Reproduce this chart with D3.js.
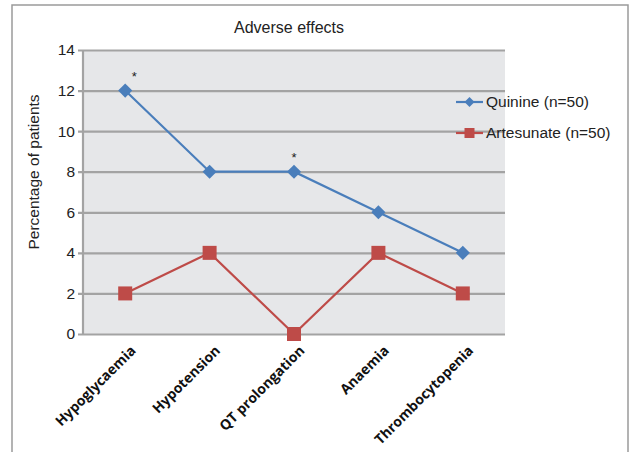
<!DOCTYPE html>
<html><head><meta charset="utf-8">
<script src="https://cdn.jsdelivr.net/npm/d3@7"></script>
<style>body{margin:0;background:#fff}svg{display:block}</style>
</head><body><div id="c"></div>
<script>
const categories = ["Hypoglycaemia","Hypotension","QT prolongation","Anaemia","Thrombocytopenia"];
const quinine = [12, 8, 8, 6, 4];
const artesunate = [2, 4, 0, 4, 2];
const yTicks = [0, 2, 4, 6, 8, 10, 12, 14];
const significant = ["Hypoglycaemia", "QT prolongation"];
const seriesNames = ["Quinine (n=50)", "Artesunate (n=50)"];

const W = 634, H = 452;
const svg = d3.select("#c").append("svg").attr("width", W).attr("height", H);
const font = "'Liberation Sans', Arial, sans-serif";

// outer frame
svg.append("rect").attr("x", 12).attr("y", 5).attr("width", 616).attr("height", 460)
  .attr("fill", "none").attr("stroke", "#9a9a9a").attr("stroke-width", 1.5);

const m = {left: 83, right: 505, top: 50, bottom: 334};
const x = d3.scaleBand().domain(categories).range([m.left, m.right]);
const y = d3.scaleLinear().domain([0, 14]).range([m.bottom, m.top]);
const cx = d => x(d) + x.bandwidth() / 2;

svg.append("rect").attr("x", m.left).attr("y", m.top).attr("width", m.right - m.left)
  .attr("height", m.bottom - m.top).attr("fill", "#e6e7e9");

// gridlines
const yAxis = d3.axisLeft(y).tickValues(yTicks).tickSize(-(m.right - m.left)).tickPadding(8);
const gy = svg.append("g").attr("transform", `translate(${m.left},0)`).call(yAxis);
gy.select(".domain").remove();
gy.selectAll(".tick line").attr("stroke", "#a3a3a3").attr("stroke-width", 2.2).attr("x1", -5);
gy.selectAll(".tick text").attr("font-family", font).attr("font-size", 15.5).attr("fill", "#222");

// y axis line
svg.append("line").attr("x1", m.left).attr("x2", m.left).attr("y1", m.top).attr("y2", m.bottom + 1)
  .attr("stroke", "#a3a3a3").attr("stroke-width", 2.2);

// x axis labels
const xAxis = d3.axisBottom(x).tickSize(0).tickPadding(0);
const gx = svg.append("g").attr("transform", `translate(0,${m.bottom})`).call(xAxis);
gx.select(".domain").remove();
gx.selectAll(".tick text").attr("font-family", "'Open Sans', sans-serif").attr("font-weight", "bold")
  .attr("font-size", 14).attr("fill", "#111").attr("text-anchor", "end")
  .attr("transform", "translate(8,14) rotate(-45)").attr("dy", "0.35em");

// lines
const line = d3.line().x((d, i) => cx(categories[i])).y(d => y(d));
const blue = "#4a7ebb", red = "#be4b48";
svg.append("path").datum(quinine).attr("d", line).attr("fill", "none").attr("stroke", blue).attr("stroke-width", 2.2);
svg.append("path").datum(artesunate).attr("d", line).attr("fill", "none").attr("stroke", red).attr("stroke-width", 2.2);

const diamond = d3.symbol().type(d3.symbolSquare).size(100);
svg.selectAll(".qm").data(quinine).join("path")
  .attr("d", diamond())
  .attr("transform", (d, i) => `translate(${cx(categories[i])},${y(d)}) rotate(45)`)
  .attr("fill", blue);
svg.selectAll(".am").data(artesunate).join("rect")
  .attr("x", (d, i) => cx(categories[i]) - 7).attr("y", d => y(d) - 7)
  .attr("width", 14).attr("height", 14).attr("fill", red);

// significance asterisks
svg.selectAll(".ast").data(significant).join("text")
  .attr("x", d => cx(d) + (d === "Hypoglycaemia" ? 9 : 0))
  .attr("y", d => y(quinine[categories.indexOf(d)]) - 10)
  .attr("text-anchor", "middle").attr("font-family", font).attr("font-size", 13).attr("fill", "#222")
  .text("*");

// title
svg.append("text").attr("x", 289).attr("y", 33).attr("text-anchor", "middle")
  .attr("font-family", font).attr("font-size", 16).attr("fill", "#222").text("Adverse effects");

// y axis title
svg.append("text").attr("transform", `translate(39,${(m.top + m.bottom) / 2 - 20}) rotate(-90)`)
  .attr("text-anchor", "middle").attr("font-family", font).attr("font-size", 15.5).attr("fill", "#222")
  .text("Percentage of patients");

// legend
const leg = [{name: seriesNames[0], color: blue, shape: "d", y: 102},
             {name: seriesNames[1], color: red, shape: "s", y: 133}];
const lg = svg.selectAll(".leg").data(leg).join("g").attr("transform", d => `translate(456,${d.y})`);
lg.append("line").attr("x1", 0).attr("x2", 27).attr("stroke", d => d.color).attr("stroke-width", 2.2);
lg.filter(d => d.shape === "d").append("path").attr("d", d3.symbol().type(d3.symbolSquare).size(50)())
  .attr("transform", "translate(13.5,0) rotate(45)").attr("fill", d => d.color);
lg.filter(d => d.shape === "s").append("rect").attr("x", 8.5).attr("y", -5).attr("width", 10).attr("height", 10)
  .attr("fill", d => d.color);
lg.append("text").attr("x", 30).attr("dy", "0.35em").attr("font-family", font).attr("font-size", 15.5)
  .attr("fill", "#222").text(d => d.name);
</script></body></html>
